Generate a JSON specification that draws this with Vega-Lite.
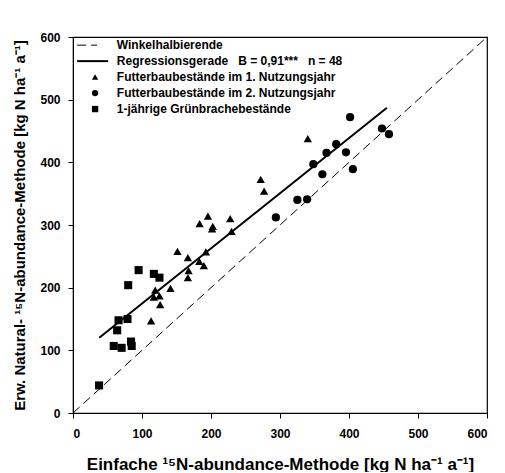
{
  "$schema": "https://vega.github.io/schema/vega-lite/v6.json",
  "width": 414,
  "height": 376,
  "padding": {"left": 12, "top": 31, "right": 5, "bottom": 0},
  "background": "white",
  "config": {
    "font": "Liberation Sans",
    "view": {"stroke": "black", "strokeWidth": 1.2},
    "axis": {
      "grid": false,
      "domainColor": "black",
      "tickColor": "black",
      "tickSize": 5,
      "labelFont": "Liberation Sans",
      "labelFontWeight": "bold",
      "labelFontSize": 12,
      "labelColor": "black",
      "titleFont": "Liberation Sans",
      "titleFontWeight": "bold",
      "titleColor": "black"
    }
  },
  "datasets": {
    "pts": [
      {"x": 37.8, "y": 44, "g": "s"},
      {"x": 59, "y": 107, "g": "s"},
      {"x": 70.5, "y": 104, "g": "s"},
      {"x": 84.1, "y": 114, "g": "s"},
      {"x": 85.1, "y": 107, "g": "s"},
      {"x": 64, "y": 132, "g": "s"},
      {"x": 66, "y": 148, "g": "s"},
      {"x": 79, "y": 150, "g": "s"},
      {"x": 80, "y": 204, "g": "s"},
      {"x": 95.1, "y": 228, "g": "s"},
      {"x": 117.2, "y": 222, "g": "s"},
      {"x": 125.3, "y": 216, "g": "s"},
      {"x": 113.2, "y": 147, "g": "t"},
      {"x": 119.2, "y": 196, "g": "t"},
      {"x": 117.2, "y": 185, "g": "t"},
      {"x": 125.3, "y": 187, "g": "t"},
      {"x": 126.3, "y": 173, "g": "t"},
      {"x": 141.3, "y": 199, "g": "t"},
      {"x": 151.4, "y": 258, "g": "t"},
      {"x": 166.5, "y": 248, "g": "t"},
      {"x": 167.5, "y": 227, "g": "t"},
      {"x": 166.5, "y": 216, "g": "t"},
      {"x": 183, "y": 242, "g": "t"},
      {"x": 189.6, "y": 235, "g": "t"},
      {"x": 183.5, "y": 302, "g": "t"},
      {"x": 195.6, "y": 314, "g": "t"},
      {"x": 202.6, "y": 298, "g": "t"},
      {"x": 201.6, "y": 294, "g": "t"},
      {"x": 227.8, "y": 310, "g": "t"},
      {"x": 229.8, "y": 290, "g": "t"},
      {"x": 192.6, "y": 257, "g": "t"},
      {"x": 340.3, "y": 438, "g": "t"},
      {"x": 272, "y": 373, "g": "t"},
      {"x": 277, "y": 354, "g": "t"},
      {"x": 294, "y": 312, "g": "c"},
      {"x": 325.2, "y": 340, "g": "c"},
      {"x": 339.3, "y": 341, "g": "c"},
      {"x": 361.4, "y": 381, "g": "c"},
      {"x": 348.3, "y": 397, "g": "c"},
      {"x": 367.4, "y": 415, "g": "c"},
      {"x": 381.5, "y": 429, "g": "c"},
      {"x": 395.6, "y": 416, "g": "c"},
      {"x": 405.6, "y": 389, "g": "c"},
      {"x": 401.6, "y": 472, "g": "c"},
      {"x": 447.8, "y": 454, "g": "c"},
      {"x": 457.9, "y": 445, "g": "c"}
    ],
    "diag": [{"x": 0, "y": 0}, {"x": 600, "y": 600}],
    "reg": [{"x": 38, "y": 120}, {"x": 455, "y": 487}],
    "legDash": [{"x": 6, "y": 587}, {"x": 35, "y": 587}],
    "legSolid": [{"x": 6, "y": 561.5}, {"x": 51, "y": 561.5}],
    "legSym": [
      {"x": 32, "y": 536, "g": "t"},
      {"x": 32, "y": 510.5, "g": "c"},
      {"x": 32, "y": 485, "g": "s"}
    ],
    "legText": [
      {"x": 63.5, "y": 587, "label": "Winkelhalbierende"},
      {"x": 63.5, "y": 561.5, "label": "Regressionsgerade\u00a0\u00a0\u00a0B = 0,91***\u00a0\u00a0\u00a0n = 48"},
      {"x": 63.5, "y": 536, "label": "Futterbaubestände im 1. Nutzungsjahr"},
      {"x": 63.5, "y": 510.5, "label": "Futterbaubestände im 2. Nutzungsjahr"},
      {"x": 63.5, "y": 485, "label": "1-jährige Grünbrachebestände"}
    ]
  },
  "encoding": {
    "x": {
      "field": "x",
      "type": "quantitative",
      "scale": {"domain": [0, 600], "nice": false, "zero": false},
      "axis": {"values": [0, 100, 200, 300, 400, 500, 600], "title": "Einfache ¹⁵N-abundance-Methode [kg N ha⁻¹ a⁻¹]", "titleFontSize": 17, "titlePadding": 17, "labelPadding": 10}
    },
    "y": {
      "field": "y",
      "type": "quantitative",
      "scale": {"domain": [0, 600], "nice": false, "zero": false},
      "axis": {"values": [0, 100, 200, 300, 400, 500, 600], "title": "Erw. Natural- ¹⁵N-abundance-Methode [kg N ha⁻¹ a⁻¹]", "titleFontSize": 15, "titlePadding": 12, "labelPadding": 8}
    }
  },
  "layer": [
    {
      "data": {"name": "diag"},
      "mark": {"type": "line", "color": "black", "strokeWidth": 1, "strokeDash": [9, 5]},
      "encoding": {}
    },
    {
      "data": {"name": "reg"},
      "mark": {"type": "line", "color": "black", "strokeWidth": 2},
      "encoding": {}
    },
    {
      "data": {"name": "pts"},
      "mark": {"type": "point", "filled": true, "color": "black", "opacity": 1},
      "encoding": {
        "shape": {"field": "g", "type": "nominal", "scale": {"domain": ["t", "c", "s"], "range": ["triangle-up", "circle", "square"]}, "legend": null},
        "size": {"field": "g", "type": "nominal", "scale": {"domain": ["t", "c", "s"], "range": [70, 65, 85]}, "legend": null}
      }
    },
    {
      "data": {"name": "legDash"},
      "mark": {"type": "line", "color": "black", "strokeWidth": 1, "strokeDash": [9, 5]},
      "encoding": {}
    },
    {
      "data": {"name": "legSolid"},
      "mark": {"type": "line", "color": "black", "strokeWidth": 2},
      "encoding": {}
    },
    {
      "data": {"name": "legSym"},
      "mark": {"type": "point", "filled": true, "color": "black", "opacity": 1, "size": 40},
      "encoding": {
        "shape": {"field": "g", "type": "nominal", "scale": {"domain": ["t", "c", "s"], "range": ["triangle-up", "circle", "square"]}, "legend": null}
      }
    },
    {
      "data": {"name": "legText"},
      "mark": {"type": "text", "align": "left", "baseline": "middle", "font": "Liberation Sans", "fontWeight": "bold", "fontSize": 12, "color": "black"},
      "encoding": {"text": {"field": "label", "type": "nominal"}}
    }
  ]
}
